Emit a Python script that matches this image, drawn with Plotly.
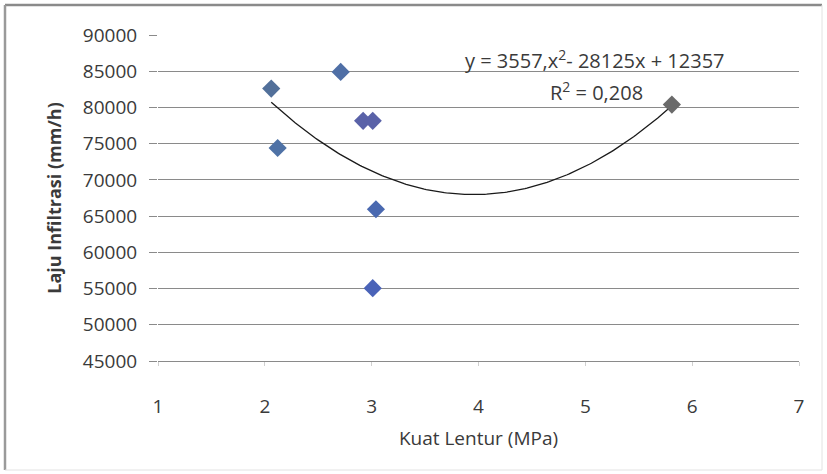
import numpy as np
import plotly.graph_objects as go

# Data
kuat_lentur = [2.06, 2.12, 2.71, 2.92, 3.01, 3.04, 3.01, 5.81]
laju_infiltrasi = [82600, 74400, 84900, 78150, 78150, 65950, 55050, 80400]
point_colors = ["#52709a", "#4f72a6", "#4f6fa6", "#5a62a8", "#5a62a8", "#4a69b0", "#4a63b8", "#6a6a6a"]

# Polynomial trendline coefficients (Excel display truncates the constant)
coef_a, coef_b, coef_c = 3557.0, -28125.0, 123570.0
eq_text = "y = 3557,x<sup>2</sup>- 28125x + 12357"
r2_text = "R<sup>2</sup> = 0,208"

x_ticks = [1, 2, 3, 4, 5, 6, 7]
x_tick_labels = ["1", "2", "3", "4", "5", "6", "7"]
y_ticks = [45000, 50000, 55000, 60000, 65000, 70000, 75000, 80000, 85000, 90000]
y_tick_labels = ["45000", "50000", "55000", "60000", "65000", "70000", "75000", "80000", "85000", "90000"]

xs = np.linspace(min(kuat_lentur), max(kuat_lentur), 200)
ys = coef_a * xs**2 + coef_b * xs + coef_c

FONT = "Open Sans"
TXT = "#3a3a3a"
GRID = "#8a8a8a"

fig = go.Figure()
fig.add_trace(go.Scatter(x=xs, y=ys, mode="lines",
                         line=dict(color="#1a1a1a", width=1.3),
                         hoverinfo="skip", showlegend=False))
fig.add_trace(go.Scatter(x=kuat_lentur, y=laju_infiltrasi, mode="markers",
                         marker=dict(symbol="diamond", size=14, color=point_colors,
                                     line=dict(width=0)),
                         showlegend=False))

fig.add_annotation(x=5.09, y=86600, text=eq_text, showarrow=False,
                   font=dict(family=FONT, size=20, color=TXT))
fig.add_annotation(x=5.1, y=82250, text=r2_text, showarrow=False,
                   font=dict(family=FONT, size=20, color=TXT))

L, R, T, B = 158, 28, 35, 113
W, H = 827, 474
pw, ph = W - L - R, H - T - B


def px(p):
    return (p - L) / pw


def py(p):
    return (H - B - p) / ph


border = [
    (5, 5, 822, 5, "#8a8a8a", 2.5),
    (5, 5, 5, 470, "#9a9a9a", 2.5),
    (822, 5, 822, 470, "#e2e2e2", 1),
    (5, 470, 822, 470, "#e2e2e2", 1),
]
for x0, y0, x1, y1, c, w in border:
    fig.add_shape(type="line", xref="paper", yref="paper",
                  x0=px(x0), y0=py(y0), x1=px(x1), y1=py(y1),
                  line=dict(color=c, width=w))

fig.update_layout(
    width=W, height=H,
    margin=dict(l=L, r=R, t=T, b=B),
    paper_bgcolor="white", plot_bgcolor="white",
    font=dict(family=FONT, color=TXT),
    xaxis=dict(range=[1, 7], tickvals=x_ticks, ticktext=x_tick_labels,
               showgrid=False, zeroline=False,
               showline=True, linecolor=GRID, linewidth=1,
               ticks="outside", ticklen=4, tickcolor="#d0d0d0",
               ticklabelstandoff=24,
               tickfont=dict(family=FONT, size=19, color=TXT),
               title=dict(text="Kuat Lentur (MPa)", standoff=13,
                          font=dict(family=FONT, size=19, color=TXT))),
    yaxis=dict(range=[45000, 90000], tickvals=y_ticks, ticktext=y_tick_labels,
               showgrid=True,
               gridcolor=GRID, gridwidth=1, zeroline=False,
               ticks="outside", ticklen=8, tickcolor=GRID,
               ticklabelstandoff=8,
               tickfont=dict(family=FONT, size=19, color=TXT),
               title=dict(text="<b>Laju Infiltrasi (mm/h)</b>", standoff=16,
                          font=dict(family=FONT, size=18, color=TXT))),
)

fig.write_html("out.html")
